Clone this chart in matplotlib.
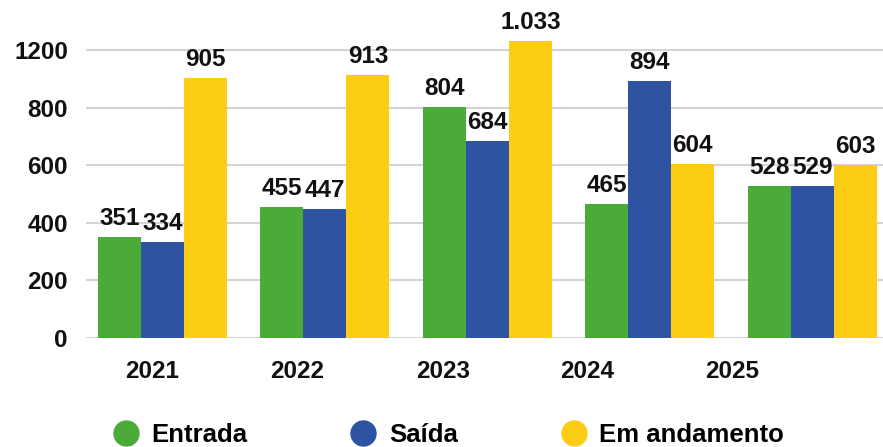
"""Grouped bar chart: Entrada / Saída / Em andamento per year (2021-2025)."""

import matplotlib.pyplot as plt
import numpy as np
from matplotlib.lines import Line2D

plt.rcParams["font.family"] = ["Liberation Sans", "DejaVu Sans"]
plt.rcParams["font.weight"] = "bold"

years = ["2021", "2022", "2023", "2024", "2025"]
entrada = [351, 455, 804, 465, 528]
saida = [334, 447, 684, 894, 529]
andamento = [905, 913, 1033, 604, 603]

series_names = ["Entrada", "Saída", "Em andamento"]
colors = ["#4aab39", "#2e53a3", "#fdcd16"]

# the source puts its year labels a bit left of the groups, drifting further each year
year_label_pos = [-0.065, 0.828, 1.726, 2.612, 3.51]
# the source also labels its top gridline "1200" although it sits at 1000
ytick_vals = [0, 200, 400, 600, 800, 1000]
ytick_text = ["0", "200", "400", "600", "800", "1200"]


def fmt(v):
    return f"{v:,}".replace(",", ".")


fig = plt.figure(figsize=(8.83, 4.47), dpi=100)
ax = fig.add_axes([0.0974, 0.2438, 0.9026, 0.7562])

x = np.arange(len(years))
width = 0.265
for k, (vals, col) in enumerate(zip([entrada, saida, andamento], colors)):
    pos = x + (k - 1) * width
    ax.bar(pos, vals, width=width, color=col, zorder=2, clip_on=False)
    for px, v in zip(pos, vals):
        ax.annotate(fmt(v), xy=(px, v), xytext=(0, 5), textcoords="offset points",
                    ha="center", va="bottom", fontsize=17.5, fontweight="bold",
                    color="#111111", annotation_clip=False)

ax.set_xlim(-0.47, 4.436)
ax.set_ylim(0, 1175)
ax.set_yticks(ytick_vals)
ax.set_yticklabels(ytick_text)
ax.set_xticks(year_label_pos)
ax.set_xticklabels(years)
ax.tick_params(axis="both", length=0, labelsize=17.5, colors="#111111")
ax.tick_params(axis="x", pad=16)
ax.tick_params(axis="y", pad=13)

ax.grid(axis="y", color="#d4d4d4", lw=1.5, zorder=0)
for s in ax.spines.values():
    s.set_visible(False)

handles = [Line2D([], [], marker="o", ls="", markersize=18, color=c) for c in colors]
fig.legend(handles, series_names, loc="center", bbox_to_anchor=(0.508, 0.027),
           ncol=3, frameon=False, fontsize=18.5, handlelength=1.0,
           handletextpad=0.5, columnspacing=4.0, borderpad=0)

fig.savefig("out.png", dpi=100)
plt.close(fig)
